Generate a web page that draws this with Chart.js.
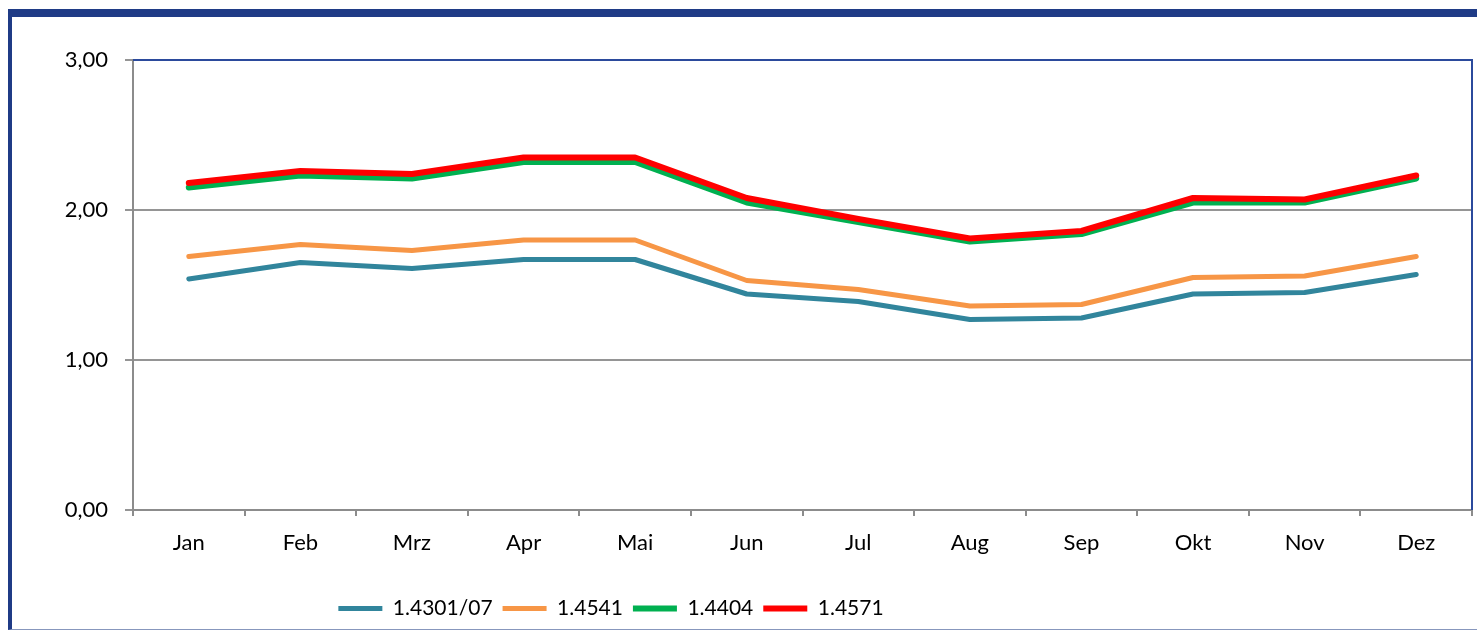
<!DOCTYPE html>
<html>
<head>
<meta charset="utf-8">
<script src="https://cdn.jsdelivr.net/npm/chart.js@4"></script>
<style>
  body { margin: 0; background: #fff; }
  #wrap { position: relative; width: 1477px; height: 632px; overflow: hidden; }
  #frame {
    position: absolute; left: 8px; top: 9px; width: 1500px; height: 621px;
    border-top: 8px solid #1f3b86; border-left: 4px solid #1f3b86;
    border-bottom: 1px solid #8797bd; box-sizing: border-box;
  }
  #myChart { position: absolute; left: 0; top: 0; }
</style>
</head>
<body>
<div id="wrap">
  <div id="frame"></div>
  <canvas id="myChart" width="1477" height="632"></canvas>
</div>
<script>
// Monate (Kategorien)
const monate = ['Jan', 'Feb', 'Mrz', 'Apr', 'Mai', 'Jun', 'Jul', 'Aug', 'Sep', 'Okt', 'Nov', 'Dez'];

// Werte je Werkstoff
const werte14301 = [1.54, 1.65, 1.61, 1.67, 1.67, 1.44, 1.39, 1.27, 1.28, 1.44, 1.45, 1.57];
const werte14541 = [1.69, 1.77, 1.73, 1.80, 1.80, 1.53, 1.47, 1.36, 1.37, 1.55, 1.56, 1.69];
const werte14404 = [2.15, 2.23, 2.21, 2.32, 2.32, 2.05, 1.92, 1.79, 1.84, 2.05, 2.05, 2.21];
const werte14571 = [2.18, 2.26, 2.24, 2.35, 2.35, 2.08, 1.94, 1.81, 1.86, 2.08, 2.07, 2.23];

// Achsenbeschriftung y
const yTicks = [0, 1, 2, 3];

const schrift = { family: 'Lato', size: 22 };
const schriftLegende = { family: 'Lato', size: 21 };

// Rahmen oben und rechts der Zeichenfläche (navy)
const plotRahmen = {
    id: 'plotRahmen',
    afterDraw(chart) {
        const a = chart.chartArea;
        const ctx = chart.ctx;
        ctx.save();
        ctx.strokeStyle = '#2b4a9c';
        ctx.lineWidth = 2;
        ctx.beginPath();
        ctx.moveTo(a.left, a.top);
        ctx.lineTo(a.right, a.top);
        ctx.lineTo(a.right, a.bottom);
        ctx.stroke();
        ctx.restore();
    }
};

// Legende etwas nach links schieben (wie im Original)
const legendeVerschieben = {
    id: 'legendeVerschieben',
    afterLayout(chart) {
        const lg = chart.legend;
        lg.left -= 125;
        lg.right -= 125;
    }
};

function linie(label, data, color, width, order) {
    return {
        label: label,
        data: data,
        borderColor: color,
        backgroundColor: color,
        borderWidth: width,
        borderCapStyle: 'round',
        borderJoinStyle: 'round',
        pointRadius: 0,
        tension: 0,
        order: order
    };
}

new Chart(document.getElementById('myChart'), {
    type: 'line',
    data: {
        labels: monate,
        datasets: [
            linie('1.4301/07', werte14301, '#31859c', 5, 4),
            linie('1.4541', werte14541, '#f79646', 5, 3),
            linie('1.4404', werte14404, '#00b050', 6, 2),
            linie('1.4571', werte14571, '#ff0000', 6, 1)
        ]
    },
    options: {
        responsive: false,
        animation: false,
        layout: { padding: { top: 60, left: 0, right: 5, bottom: 3 } },
        plugins: {
            tooltip: { enabled: false },
            legend: {
                position: 'bottom',
                labels: {
                    usePointStyle: true,
                    pointStyle: 'line',
                    pointStyleWidth: 44,
                    color: '#000',
                    font: schriftLegende,
                    padding: 10,
                    sort: (a, b) => a.datasetIndex - b.datasetIndex
                }
            }
        },
        scales: {
            x: {
                offset: true,
                grid: { offset: true, drawOnChartArea: false, tickLength: 6, color: '#8c8c8c', lineWidth: 2 },
                border: { color: '#8c8c8c', width: 2 },
                ticks: { color: '#000', font: schrift, padding: 14, maxRotation: 0 },
                afterFit(scale) { scale.height = 78; }
            },
            y: {
                min: 0,
                max: 3,
                afterBuildTicks(scale) { scale.ticks = yTicks.map(v => ({ value: v })); },
                grid: { color: '#959595', lineWidth: 2, tickLength: 8 },
                border: { color: '#8c8c8c', width: 2 },
                ticks: {
                    color: '#000', font: schrift, padding: 17,
                    callback: v => v.toFixed(2).replace('.', ',')
                },
                afterFit(scale) { scale.width = 133; }
            }
        }
    },
    plugins: [plotRahmen, legendeVerschieben]
});
</script>
</body>
</html>
